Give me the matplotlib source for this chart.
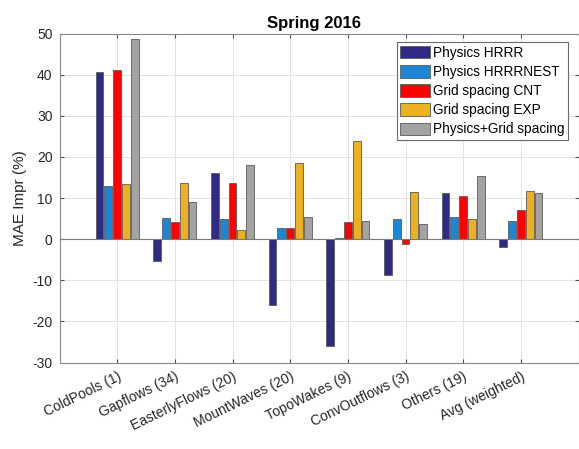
import numpy as np
import matplotlib.pyplot as plt

plt.rcParams['font.family'] = ['Liberation Sans', 'DejaVu Sans']
plt.rcParams['axes.unicode_minus'] = False

categories = ["ColdPools (1)", "Gapflows (34)", "EasterlyFlows (20)", "MountWaves (20)",
              "TopoWakes (9)", "ConvOutflows (3)", "Others (19)", "Avg (weighted)"]
series_names = ["Physics HRRR", "Physics HRRRNEST", "Grid spacing CNT",
                "Grid spacing EXP", "Physics+Grid spacing"]

physics_hrrr = [40.6, -5.3, 16.0, -16.1, -25.9, -8.8, 11.1, -1.9]
physics_hrrrnest = [12.8, 5.2, 5.0, 2.7, 0.2, 4.8, 5.4, 4.4]
grid_cnt = [41.1, 4.2, 13.6, 2.8, 4.2, -1.2, 10.6, 7.0]
grid_exp = [13.5, 13.6, 2.3, 18.6, 23.9, 11.4, 4.8, 11.6]
physics_grid = [48.7, 9.1, 18.0, 5.5, 4.4, 3.7, 15.4, 11.1]

colors = ["#2E2A86", "#1B87D4", "#FF0000", "#ECB020", "#A3A3A3"]

fig = plt.figure(figsize=(5.79, 4.49), dpi=100)
ax = fig.add_axes([59.5 / 579, 1 - 362.5 / 449, 519 / 579, 329 / 449])

series = [physics_hrrr, physics_hrrrnest, grid_cnt, grid_exp, physics_grid]
x = np.arange(1, len(categories) + 1)
slot = 0.153
width = 0.135
for i, vals in enumerate(series):
    ax.bar(x + (i - 2) * slot, vals, width, color=colors[i], edgecolor="#5a5a5a",
           linewidth=0.6, label=series_names[i], zorder=3)

ax.axhline(0, color="#7a7a7a", linewidth=0.8, zorder=4)

ax.set_xlim(0, 9)
ax.set_ylim(-30, 50)
ax.set_yticks(np.arange(-30, 51, 10))
ax.set_xticks(x)
ax.set_xticklabels(categories, rotation=26, ha="right", rotation_mode="anchor",
                   fontsize=10, color="#262626")
ax.tick_params(axis="y", labelsize=10, labelcolor="#262626")
ax.tick_params(direction="in", length=3, color="#4d4d4d", top=True, right=True, pad=5)
ax.grid(True, color="#e3e3e3", linewidth=0.7, zorder=0)
for s in ax.spines.values():
    s.set_color("#8a8a8a")
    s.set_linewidth(0.8)

ax.set_ylabel("MAE Impr (%)", fontsize=11, color="#262626", labelpad=3.5)
ax.set_title("Spring 2016", fontsize=12, fontweight="bold", pad=4, x=0.49)

leg = ax.legend(loc="upper right", bbox_to_anchor=(0.979, 0.973), fontsize=9.8,
                handlelength=2.2, handleheight=1.05, handletextpad=0.2,
                labelspacing=0.38, borderpad=0.25, borderaxespad=0.0,
                fancybox=False, framealpha=1)
leg.get_frame().set_edgecolor("#6a6a6a")
leg.get_frame().set_linewidth(0.8)
leg.set_zorder(5)

fig.savefig("out.png", dpi=100)
